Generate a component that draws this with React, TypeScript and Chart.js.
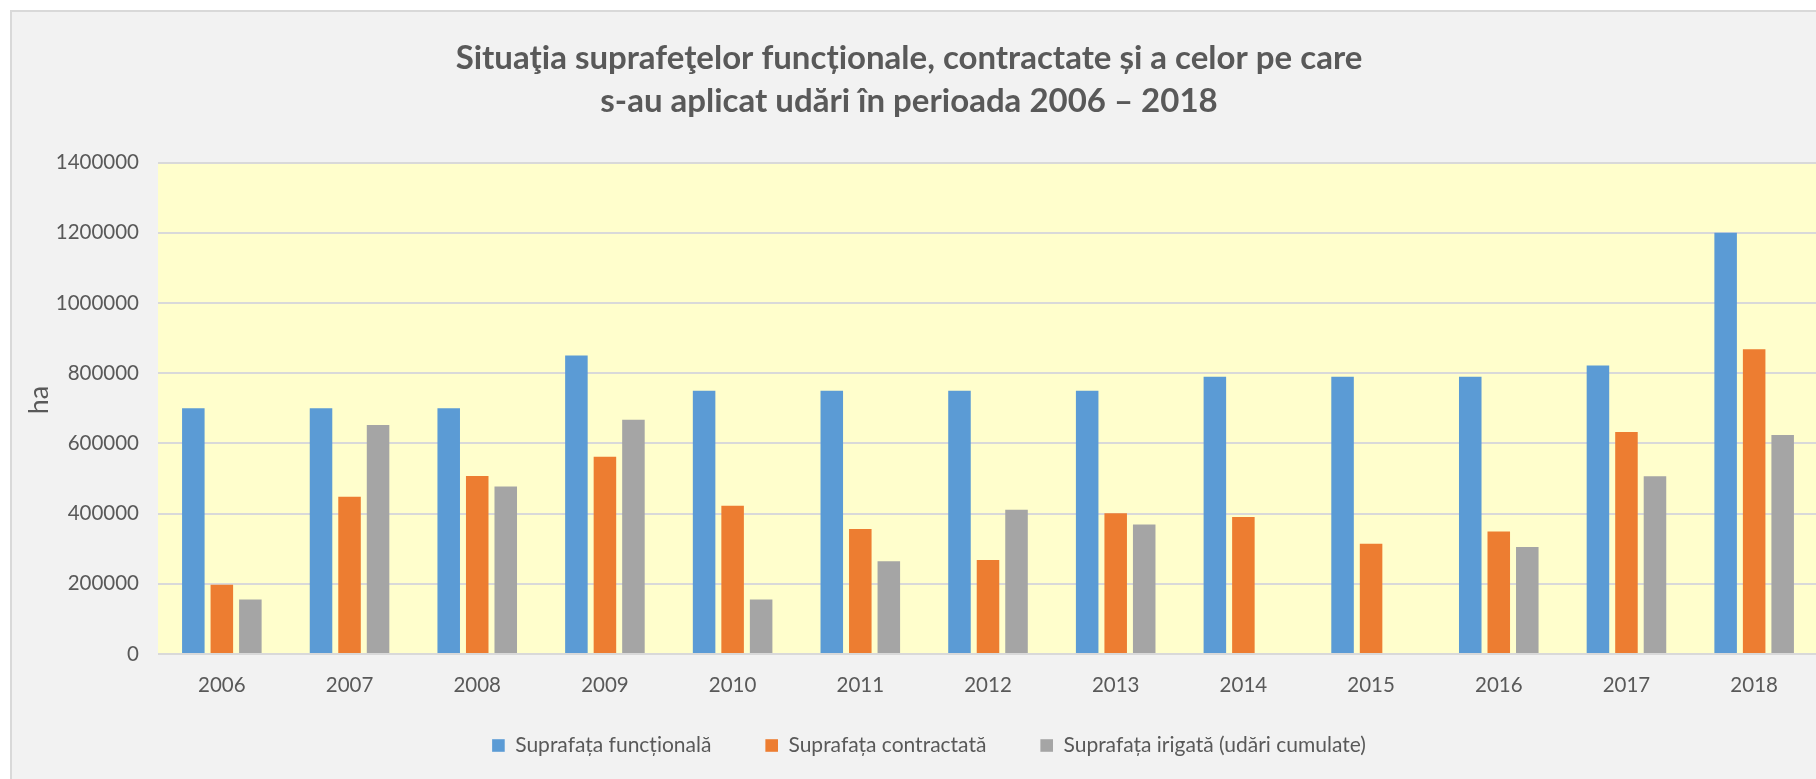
import React, { useEffect, useRef } from "react";
import { Chart, registerables } from "chart.js";

Chart.register(...registerables);

const years = ["2006", "2007", "2008", "2009", "2010", "2011", "2012", "2013", "2014", "2015", "2016", "2017", "2018"];
const functionalArea = [700000, 700000, 700000, 850000, 750000, 750000, 750000, 750000, 790000, 790000, 790000, 822000, 1200000];
const contractedArea = [197000, 448000, 507000, 562000, 422000, 356000, 268000, 401000, 390000, 314000, 349000, 632000, 868000];
const irrigatedArea = [155000, 652000, 477000, 667000, 155000, 264000, 411000, 369000, 0, 0, 305000, 506000, 624000];
const seriesLabels = ["Suprafața funcțională", "Suprafața contractată", "Suprafața irigată (udări cumulate)"];
const seriesColors = ["#5b9bd5", "#ed7d31", "#a5a5a5"];
const yTickValues = [0, 200000, 400000, 600000, 800000, 1000000, 1200000, 1400000];
const titleLines = [
  "Situaţia suprafeţelor funcționale, contractate și a celor pe care",
  "s-au aplicat udări în perioada 2006 – 2018",
];
const yAxisTitle = "ha";

const FONT = "Lato, 'Noto Sans', sans-serif";
const TEXT = "#595959";
const CANVAS_W = 1830;
const CANVAS_H = 768;

const plotBg = {
  id: "plotBg",
  beforeDraw(chart: any) {
    const { ctx, chartArea } = chart;
    if (!chartArea) return;
    ctx.save();
    ctx.fillStyle = "#fffecc";
    ctx.fillRect(chartArea.left, chartArea.top, chartArea.right - chartArea.left, chartArea.bottom - chartArea.top);
    ctx.restore();
  },
};

const shiftBoxes = {
  id: "shiftBoxes",
  afterLayout(chart: any) {
    if (chart.legend) {
      chart.legend.left += 14;
      chart.legend.right += 14;
      chart.legend.top -= 14;
      chart.legend.bottom -= 14;
    }
    if (chart.titleBlock) {
      chart.titleBlock.left -= 6;
      chart.titleBlock.right -= 6;
    }
  },
};

const yTitlePlugin = {
  id: "yTitle",
  afterDraw(chart: any) {
    const { ctx } = chart;
    ctx.save();
    ctx.translate(27, 388);
    ctx.rotate(-Math.PI / 2);
    ctx.fillStyle = TEXT;
    ctx.font = `27px ${FONT}`;
    ctx.textAlign = "center";
    ctx.textBaseline = "middle";
    ctx.fillText(yAxisTitle, 0, 0);
    ctx.restore();
  },
};

export default function App() {
  const ref = useRef<HTMLCanvasElement>(null);

  useEffect(() => {
    if (!ref.current) return;
    const series = [functionalArea, contractedArea, irrigatedArea];
    const chart = new Chart(ref.current, {
      type: "bar",
      data: {
        labels: years,
        datasets: series.map((d, i) => ({
          label: seriesLabels[i],
          data: d,
          backgroundColor: seriesColors[i],
          borderWidth: 0,
          categoryPercentage: 0.67,
          barPercentage: 0.79,
        })),
      },
      options: {
        responsive: false,
        animation: false,
        layout: { padding: { left: 0, right: CANVAS_W - 1806, top: 0, bottom: 0 } },
        plugins: {
          title: {
            display: true,
            text: titleLines,
            color: TEXT,
            font: { family: FONT, size: 33, weight: "bold", lineHeight: 43 / 33 },
            padding: { top: 24.5, bottom: 40 },
          },
          legend: {
            position: "bottom",
            labels: {
              color: TEXT,
              font: { family: FONT, size: 21 },
              boxWidth: 12.6,
              boxHeight: 12.6,
              padding: 54,
            },
          },
          tooltip: { enabled: false },
        },
        scales: {
          x: {
            grid: { display: false, drawTicks: false },
            border: { display: false },
            ticks: { color: TEXT, font: { family: FONT, size: 20.5 }, padding: 19 },
            afterFit: (s: any) => {
              s.height = 41;
            },
          },
          y: {
            min: 0,
            max: 1400000,
            border: { display: false },
            grid: { color: "#d9d9d9", lineWidth: 2, drawTicks: false },
            ticks: {
              color: TEXT,
              font: { family: FONT, size: 20.5 },
              padding: 19,
              callback: (v: any) => String(v),
            },
            afterBuildTicks: (s: any) => {
              s.ticks = yTickValues.map((v) => ({ value: v }));
            },
            title: { display: false },
            afterFit: (s: any) => {
              s.width = 146;
            },
          },
        },
      },
      plugins: [plotBg, shiftBoxes, yTitlePlugin],
    });
    return () => chart.destroy();
  }, []);

  return (
    <div
      style={{
        position: "fixed",
        left: 0,
        top: 0,
        width: "100vw",
        height: "100vh",
        overflow: "hidden",
        background: "#ffffff",
      }}
    >
      <div
        style={{
          position: "absolute",
          left: 10,
          top: 10,
          width: CANVAS_W,
          height: 820,
          border: "2px solid #d9d9d9",
          background: "#f2f2f2",
        }}
      >
        <canvas ref={ref} width={CANVAS_W} height={CANVAS_H} style={{ display: "block", width: CANVAS_W, height: CANVAS_H }} />
      </div>
    </div>
  );
}
